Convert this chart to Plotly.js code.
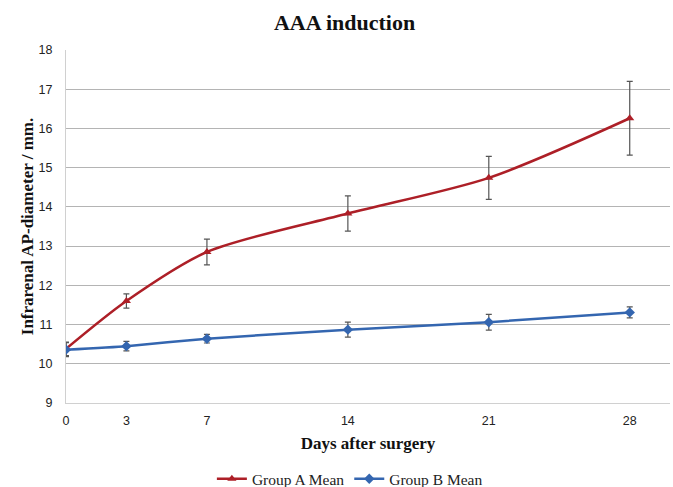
<!DOCTYPE html>
<html>
<head>
<meta charset="utf-8">
<script src="https://cdn.plot.ly/plotly-3.0.1.min.js"></script>
<style>html,body{margin:0;padding:0;background:#fff;}#chart{width:673px;height:487px;}</style>
</head>
<body>
<div id="chart"></div>
<script>
const days = [0, 3, 7, 14, 21, 28];
const groupAMean = [10.38, 11.6, 12.85, 13.83, 14.74, 16.26];
const groupAErr = [0.17, 0.18, 0.33, 0.45, 0.55, 0.94];
const groupBMean = [10.36, 10.45, 10.64, 10.87, 11.06, 11.31];
const groupBErr = [0.18, 0.12, 0.11, 0.19, 0.2, 0.14];
const xTickLabels = ['0', '3', '7', '14', '21', '28'];

const serif = 'Liberation Serif, Times New Roman, serif';
const sans = 'Liberation Sans, Arial, sans-serif';

const traces = [
  {
    x: days, y: groupAMean, name: 'Group A Mean', type: 'scatter', mode: 'lines+markers',
    line: {color: '#ad1f27', width: 2.5, shape: 'spline', smoothing: 0.8},
    marker: {symbol: 'triangle-up', size: 8, color: '#ad1f27'},
    error_y: {type: 'data', array: groupAErr, visible: true, color: '#555555', thickness: 1.2, width: 3}
  },
  {
    x: days, y: groupBMean, name: 'Group B Mean', type: 'scatter', mode: 'lines+markers',
    line: {color: '#3466b0', width: 2.5, shape: 'spline', smoothing: 0.5},
    marker: {symbol: 'diamond', size: 8, color: '#3466b0'},
    error_y: {type: 'data', array: groupBErr, visible: true, color: '#555555', thickness: 1.2, width: 3}
  }
];

const layout = {
  width: 673, height: 487,
  margin: {l: 66, r: 3, t: 50, b: 84, autoexpand: false},
  paper_bgcolor: '#ffffff', plot_bgcolor: '#ffffff',
  title: {text: '<b>AAA induction</b>', font: {family: serif, size: 22, color: '#111'}, x: 0.512, xanchor: 'center', yref: 'container', y: 0.955, yanchor: 'middle'},
  showlegend: true,
  legend: {orientation: 'h', x: 0.47, xanchor: 'center', yref: 'container', y: 0.016, yanchor: 'middle',
           font: {family: serif, size: 15.5, color: '#222'}, itemwidth: 30, tracegroupgap: 0},
  xaxis: {
    range: [0, 30], tickmode: 'array', tickvals: days, ticktext: xTickLabels,
    showgrid: false, zeroline: false, showline: true, linecolor: '#d0d0d0', linewidth: 1,
    ticks: '', ticklabelstandoff: 6, tickfont: {family: sans, size: 12.5, color: '#222'},
    automargin: false,
    title: {text: '<b>Days after surgery</b>', font: {family: serif, size: 17, color: '#111'}, standoff: 10}
  },
  yaxis: {
    range: [9, 18], dtick: 1, tick0: 9,
    showgrid: true, gridcolor: '#b4b4b4', gridwidth: 1.2, zeroline: false,
    showline: true, linecolor: '#d0d0d0', linewidth: 1,
    ticks: '', ticklabelstandoff: 10, tickfont: {family: sans, size: 12.5, color: '#222'},
    automargin: false,
    title: {text: '<b>Infrarenal AP-diameter / mm.</b>', font: {family: serif, size: 17, color: '#111'}, standoff: 0}
  }
};

Plotly.newPlot('chart', traces, layout, {displayModeBar: false, staticPlot: true});
</script>
</body>
</html>
